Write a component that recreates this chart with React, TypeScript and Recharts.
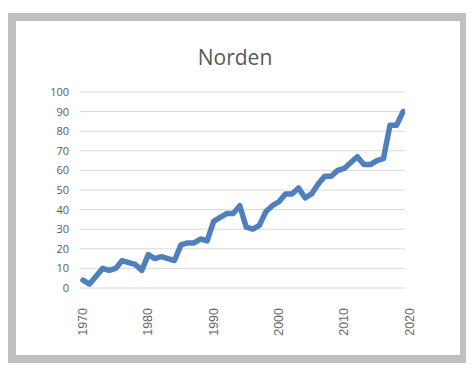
import { CartesianGrid, Line, LineChart, XAxis, YAxis } from "recharts"

const years = [
  1970, 1971, 1972, 1973, 1974, 1975, 1976, 1977, 1978, 1979,
  1980, 1981, 1982, 1983, 1984, 1985, 1986, 1987, 1988, 1989,
  1990, 1991, 1992, 1993, 1994, 1995, 1996, 1997, 1998, 1999,
  2000, 2001, 2002, 2003, 2004, 2005, 2006, 2007, 2008, 2009,
  2010, 2011, 2012, 2013, 2014, 2015, 2016, 2017, 2018, 2019,
]

const values = [
  4, 2, 6, 10, 9, 10, 14, 13, 12, 9,
  17, 15, 16, 15, 14, 22, 23, 23, 25, 24,
  34, 36, 38, 38, 42, 31, 30, 32, 39, 42,
  44, 48, 48, 51, 46, 48, 53, 57, 57, 60,
  61, 64, 67, 63, 63, 65, 66, 83, 83, 90,
]

const yearTicks = [1970, 1980, 1990, 2000, 2010, 2020]
const valueTicks = [0, 10, 20, 30, 40, 50, 60, 70, 80, 90, 100]

const chartData = years.map((year, i) => ({ year, value: values[i] }))

const textColor = "#595959"

function YearTick({ x, y, payload }: any) {
  return (
    <text
      x={x}
      y={y}
      transform={`rotate(-90 ${x} ${y})`}
      textAnchor="end"
      dominantBaseline="central"
      fill="#666"
      fontSize={12.5}
      fontFamily="'Liberation Sans', Arial, sans-serif"
    >
      {payload.value}
    </text>
  )
}

export default function App() {
  return (
    <div
      style={{
        marginTop: 5,
        width: 460,
        height: 350,
        boxSizing: "border-box",
        border: "8px solid #c0c0c0",
        background: "#fff",
        position: "relative",
      }}
    >
      <div
        style={{
          position: "absolute",
          top: 26,
          left: 0,
          width: 438,
          textAlign: "center",
          fontFamily: "'Open Sans', sans-serif",
          fontSize: 21,
          lineHeight: "21px",
          color: textColor,
        }}
      >
        Norden
      </div>
      <LineChart
        width={444}
        height={334}
        data={chartData}
        margin={{ top: 71, right: 55, left: 0, bottom: 7 }}
      >
        <CartesianGrid vertical={false} stroke="#d9d9d9" />
        <XAxis
          dataKey="year"
          type="number"
          domain={[1969.54, 2019.3]}
          ticks={yearTicks}
          interval={0}
          allowDataOverflow
          axisLine={false}
          tickLine={false}
          tickMargin={14}
          height={60}
          tick={<YearTick />}
        />
        <YAxis
          domain={[0, 100]}
          ticks={valueTicks}
          interval={0}
          width={64}
          axisLine={false}
          tickLine={false}
          tickMargin={5}
          tick={{ fill: textColor, fontSize: 11, fontFamily: "'Open Sans', sans-serif" }}
        />
        <Line
          type="linear"
          dataKey="value"
          stroke="#4f7fbe"
          strokeWidth={5.5}
          strokeLinejoin="round"
          strokeLinecap="round"
          dot={false}
          isAnimationActive={false}
        />
      </LineChart>
    </div>
  )
}
